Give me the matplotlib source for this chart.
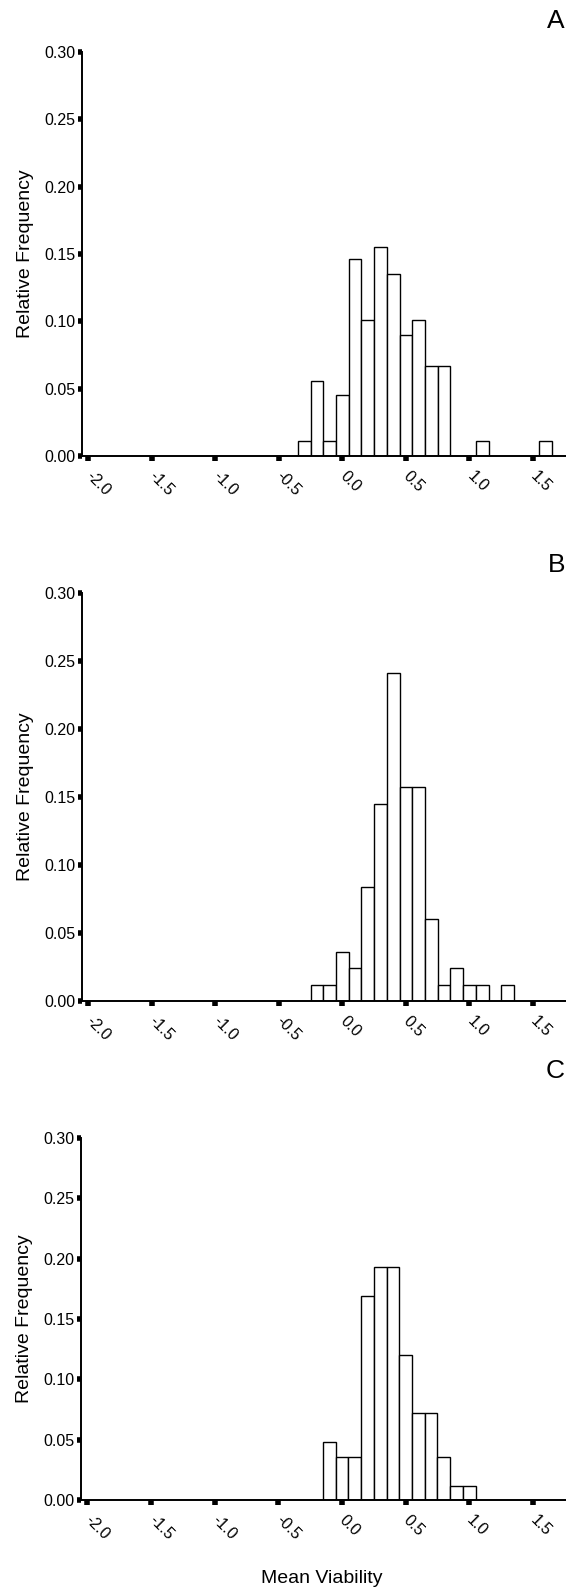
import numpy as np
import matplotlib as mpl
mpl.use('Agg')
import matplotlib.pyplot as plt

plt.rcParams['font.family'] = ['Liberation Sans', 'DejaVu Sans']
plt.rcParams['axes.unicode_minus'] = False

# bin centres (width 0.1) and relative frequencies
centers_a = [-0.3, -0.2, -0.1, 0.0, 0.1, 0.2, 0.3, 0.4, 0.5, 0.6, 0.7, 0.8, 1.1, 1.6]
freq_a = [0.011, 0.056, 0.011, 0.045, 0.146, 0.101, 0.155, 0.135, 0.090, 0.101, 0.067, 0.067, 0.011, 0.011]

centers_b = [-0.2, -0.1, 0.0, 0.1, 0.2, 0.3, 0.4, 0.5, 0.6, 0.7, 0.8, 0.9, 1.0, 1.1, 1.3]
freq_b = [0.012, 0.012, 0.036, 0.024, 0.084, 0.145, 0.241, 0.157, 0.157, 0.060, 0.012, 0.024, 0.012, 0.012, 0.012]

centers_c = [-0.1, 0.0, 0.1, 0.2, 0.3, 0.4, 0.5, 0.6, 0.7, 0.8, 0.9, 1.0]
freq_c = [0.048, 0.036, 0.036, 0.169, 0.193, 0.193, 0.120, 0.072, 0.072, 0.036, 0.012, 0.012]

panels = ['A', 'B', 'C']
xticks = [-2.0, -1.5, -1.0, -0.5, 0.0, 0.5, 1.0, 1.5]
yticks = [0.00, 0.05, 0.10, 0.15, 0.20, 0.25, 0.30]

W, H = 566, 1592
fig = plt.figure(figsize=(W/100, H/100), dpi=100)

# axes boxes in pixels: left, top, right, bottom
boxes = [(82, 52, 566, 456), (82, 593, 566, 1001), (81, 1138, 566, 1500)]
letter_y = [28, 572, 1078]
data = [(centers_a, freq_a), (centers_b, freq_b), (centers_c, freq_c)]

for i in range(3):
    l, t, r, b = boxes[i]
    ax = fig.add_axes([l/W, 1-b/H, (r-l)/W, (b-t)/H])
    c, f = data[i]
    ax.bar(c, f, width=0.1, color='white', edgecolor='black', linewidth=1.0, zorder=2)
    ax.set_xlim(-2.05, 1.76)
    ax.set_ylim(0, 0.30)
    ax.spines['top'].set_visible(False)
    ax.spines['right'].set_visible(False)
    ax.spines['left'].set_linewidth(1.4)
    ax.spines['bottom'].set_linewidth(1.4)
    ax.set_yticks(yticks)
    ax.set_yticklabels(['%.2f' % v for v in yticks])
    ax.set_xticks(xticks)
    ax.set_xticklabels(['%.1f' % v for v in xticks], rotation=-45, ha='left',
                       va='center', rotation_mode='anchor')
    ax.tick_params(axis='y', direction='out', length=3, width=4, labelsize=11.5, pad=2)
    ax.tick_params(axis='x', direction='out', length=3.5, width=4, labelsize=11.5, pad=9)
    ax.set_ylabel('Relative Frequency', fontsize=14, labelpad=7)
    fig.text(565/W, 1-letter_y[i]/H, panels[i], fontsize=19, ha='right', va='baseline')

fig.text(322/W, 1-1583/H, 'Mean Viability', fontsize=14, ha='center', va='baseline')

fig.savefig('out.png', dpi=100)
